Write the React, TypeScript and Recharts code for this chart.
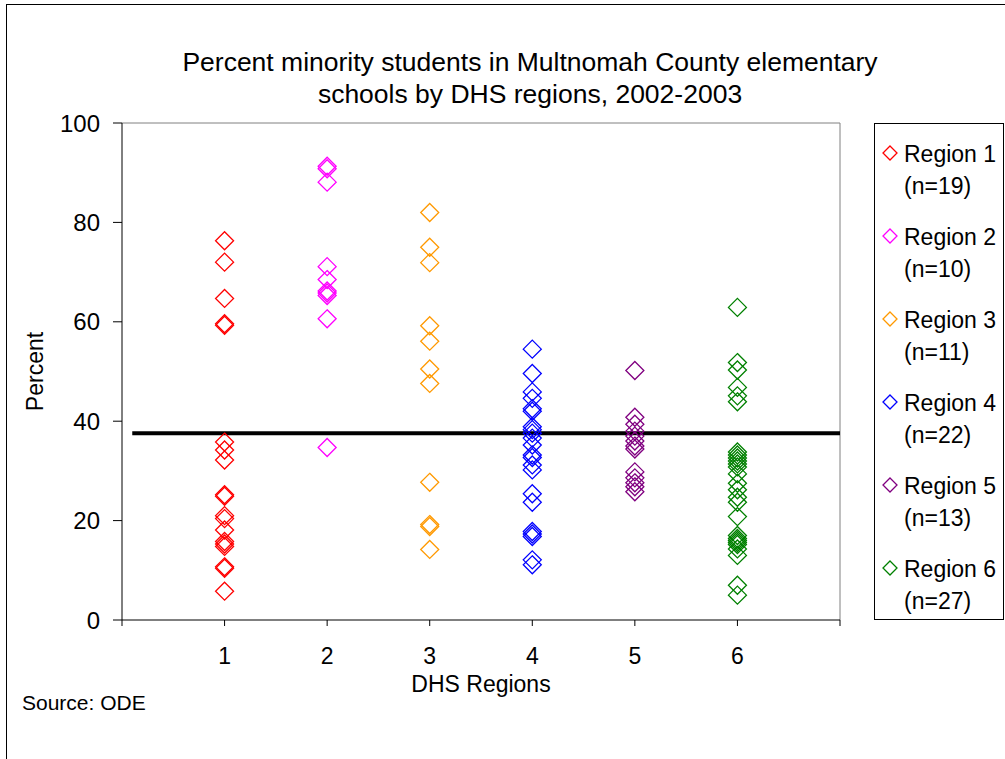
import React from 'react';
import {
  Legend,
  ReferenceLine,
  Scatter,
  ScatterChart,
  XAxis,
  YAxis,
} from 'recharts';

const FONT = '"Liberation Sans", Arial, sans-serif';

const regionNames = ['Region 1', 'Region 2', 'Region 3', 'Region 4', 'Region 5', 'Region 6'];
const regionCounts = [19, 10, 11, 22, 13, 27];
const regionColors = ['#FF0000', '#FF00FF', '#FF9900', '#0000FF', '#800080', '#008000'];

// percent minority students, one value per school
const region1 = [76.3, 72.0, 64.7, 59.6, 59.3, 35.8, 34.2, 32.2, 25.2, 24.9, 21.0, 20.4, 18.1, 15.8, 15.3, 14.8, 10.7, 10.4, 5.8];
const region2 = [91.3, 90.8, 88.1, 71.1, 68.5, 66.2, 65.8, 65.3, 60.6, 34.7];
const region3 = [82.0, 75.0, 71.9, 59.2, 56.1, 50.5, 47.6, 27.7, 19.2, 18.8, 14.2];
const region4 = [54.5, 49.6, 45.9, 44.6, 42.5, 42.0, 38.9, 38.3, 37.6, 36.6, 35.2, 33.2, 32.7, 31.2, 30.2, 25.4, 23.7, 17.8, 17.3, 16.8, 12.1, 11.1];
const region5 = [50.2, 40.8, 39.4, 38.0, 37.0, 36.0, 35.0, 34.4, 29.8, 28.6, 27.6, 26.8, 25.8];
const region6 = [62.9, 51.8, 50.3, 46.8, 45.1, 43.9, 33.8, 33.2, 32.6, 32.0, 31.4, 30.8, 29.4, 27.5, 26.2, 24.7, 23.7, 20.8, 17.0, 16.4, 16.0, 15.6, 15.2, 14.3, 13.0, 7.0, 5.0];
const regionValues = [region1, region2, region3, region4, region5, region6];

// county-wide average
const averagePercent = 37.6;
const averageStart = 0.1;

const xTicks = [0, 1, 2, 3, 4, 5, 6, 7];
const yTicks = [0, 20, 40, 60, 80, 100];

const series = regionValues.map((vals, i) => vals.map((v) => ({ x: i + 1, y: v })));

const Diamond = (props: any) => {
  const { cx, cy, fill } = props;
  const h = 9;
  return (
    <path
      d={`M${cx},${cy - h}L${cx + h},${cy}L${cx},${cy + h}L${cx - h},${cy}Z`}
      fill="none"
      stroke={fill}
      strokeWidth={1.3}
    />
  );
};

const LegendBox = () => (
  <div
    style={{
      position: 'relative',
      width: 130,
      height: 497,
      boxSizing: 'border-box',
      border: '1px solid #000',
      background: '#fff',
      fontFamily: FONT,
      fontSize: 23,
      color: '#000',
    }}
  >
    {regionNames.map((name, i) => (
      <div key={name} style={{ position: 'absolute', left: 0, top: 14 + i * 83, lineHeight: '32px' }}>
        <svg width={20} height={32} style={{ position: 'absolute', left: 5, top: 0 }}>
          <path d="M10,8L17,15L10,22L3,15Z" fill="none" stroke={regionColors[i]} strokeWidth={1.3} />
        </svg>
        <div style={{ position: 'absolute', left: 29, top: 0, whiteSpace: 'nowrap' }}>{name}</div>
        <div style={{ position: 'absolute', left: 29, top: 32, whiteSpace: 'nowrap' }}>(n={regionCounts[i]})</div>
      </div>
    ))}
  </div>
);

export default function App() {
  const tickStyle = { fill: '#000', fontSize: 24, fontFamily: FONT };
  return (
    <div style={{ position: 'absolute', left: 0, top: 0, width: 1005, height: 759, background: '#fff', overflow: 'hidden' }}>
      <div
        style={{
          position: 'absolute',
          left: 6,
          top: 4,
          width: 1100,
          height: 900,
          borderTop: '1.5px solid #000',
          borderLeft: '1.5px solid #000',
        }}
      />
      <div
        style={{
          position: 'absolute',
          left: 30,
          top: 46,
          width: 1000,
          textAlign: 'center',
          fontFamily: FONT,
          fontSize: 26.5,
          lineHeight: '32px',
          color: '#000',
        }}
      >
        Percent minority students in Multnomah County elementary
        <br />
        schools by DHS regions, 2002-2003
      </div>
      <div style={{ position: 'absolute', left: 0, top: 0 }}>
        <ScatterChart width={1005} height={759} margin={{ top: 123, right: 165, bottom: 64, left: 22 }}>
          <ReferenceLine y={100} stroke="#808080" strokeWidth={1} />
          <ReferenceLine x={7} stroke="#808080" strokeWidth={1} />
          <XAxis
            type="number"
            dataKey="x"
            domain={[0, 7]}
            ticks={xTicks}
            allowDataOverflow
            height={75}
            tickSize={6}
            tickMargin={22}
            tickFormatter={(v: number) => (v >= 1 && v <= 6 ? String(v) : '')}
            stroke="#000"
            tick={{ ...tickStyle, fontSize: 23 }}
            label={{ value: 'DHS Regions', position: 'insideBottom', offset: 3, fill: '#000', fontSize: 23, fontFamily: FONT }}
          />
          <YAxis
            type="number"
            dataKey="y"
            domain={[0, 100]}
            ticks={yTicks}
            allowDataOverflow
            width={100}
            tickSize={9}
            tickMargin={13}
            stroke="#000"
            tick={tickStyle}
            label={{
              value: 'Percent',
              angle: -90,
              position: 'insideLeft',
              offset: 13,
              fill: '#000',
              fontSize: 23,
              fontFamily: FONT,
              style: { textAnchor: 'middle' },
            }}
          />
          {series.map((data, i) => (
            <Scatter
              key={regionNames[i]}
              name={regionNames[i]}
              data={data}
              fill={regionColors[i]}
              shape={Diamond}
              isAnimationActive={false}
            />
          ))}
          <ReferenceLine
            segment={[
              { x: averageStart, y: averagePercent },
              { x: 7, y: averagePercent },
            ]}
            stroke="#000"
            strokeWidth={4}
          />
          <Legend
            layout="horizontal"
            verticalAlign="middle"
            align="center"
            wrapperStyle={{ left: 874, top: 123, width: 130, height: 497 }}
            content={() => <LegendBox />}
          />
        </ScatterChart>
      </div>
      <div
        style={{
          position: 'absolute',
          left: 22,
          top: 691,
          fontFamily: FONT,
          fontSize: 21,
          lineHeight: '24px',
          color: '#000',
        }}
      >
        Source: ODE
      </div>
    </div>
  );
}
